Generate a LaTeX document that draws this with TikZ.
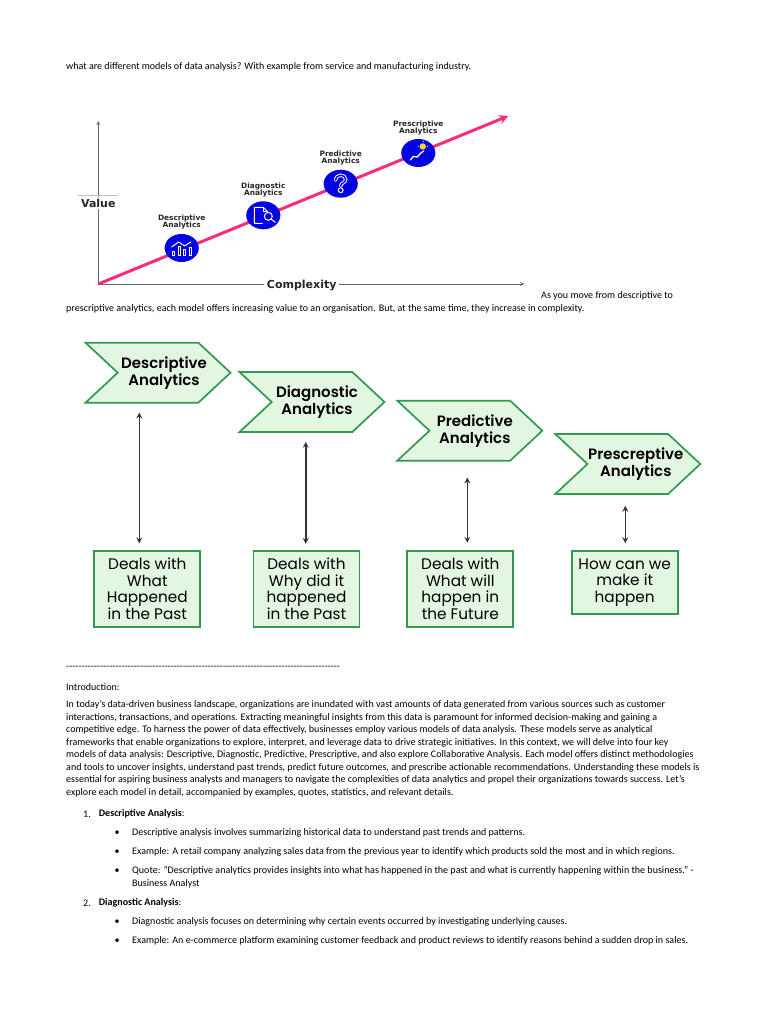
\documentclass[tikz,border=0pt]{standalone}
\usepackage{fontspec}
\setmainfont{Carlito}
\newfontfamily\headfont{Poppins}
\newfontfamily\headsemi{Poppins SemiBold}
\newfontfamily\chartfont{DejaVu Sans}
\usetikzlibrary{shapes.symbols}
\definecolor{boxgreen}{HTML}{2F9A50}
\definecolor{boxfill}{HTML}{E3F6E1}
\definecolor{trendpink}{HTML}{F72C7C}
\definecolor{stageblue}{HTML}{0404E2}
\definecolor{bulbyellow}{HTML}{FFD51E}

\begin{document}
\begin{tikzpicture}[
    x = 1pt,
    y = -1pt,
    bodytext/.style = {
        anchor = west,
        inner sep = 0pt,
        align = left,
        text = black,
        font = \fontsize{10.05}{12.5}\selectfont
    },
    chevron/.style = {
        shape = signal,
        signal from = west,
        signal to = east,
        signal pointer angle = 86,
        draw = boxgreen,
        fill = boxfill,
        line width = 1.7pt,
        inner sep = 0pt,
        minimum height = 60pt,
        minimum width = 145pt
    },
    chevrontext/.style = {
        inner sep = 0pt,
        align = center,
        text = black,
        font = \headsemi\fontsize{15}{17}\selectfont
    },
    dealbox/.style = {
        draw = boxgreen,
        fill = boxfill,
        line width = 1.7pt,
        inner sep = 0pt,
        minimum width = 106pt,
        align = center,
        font = \headfont\fontsize{15.3}{16.7}\selectfont
    },
    linkarrow/.style = {
        <->,
        >= stealth,
        draw = black!80,
        line width = 1.6pt
    },
    axisline/.style = {
        -stealth,
        draw = black!60,
        line width = 0.8pt
    },
    axislabel/.style = {
        fill = white,
        inner xsep = 3pt,
        inner ysep = 1.5pt,
        text = black!85,
        font = \chartfont\bfseries\fontsize{11}{12}\selectfont
    },
    stage/.style = {
        shape = circle,
        fill = stageblue,
        minimum size = 28pt,
        inner sep = 0pt,
        xscale = 1.22
    },
    stagelabel/.style = {
        inner sep = 0pt,
        align = center,
        text = black!85,
        font = \chartfont\bfseries\fontsize{7.4}{7.3}\selectfont
    },
    icon/.style = {
        draw = white,
        line width = 1pt,
        line cap = round,
        line join = round
    }
]

\useasboundingbox (0,0) rectangle (768,1024);

\node[bodytext] (title) at (66,67.3) {what are different models of data analysis? With example from service and manufacturing industry.};

\coordinate (origin) at (98.3,284);
\coordinate (valuetop) at (98.3,121);
\coordinate (complexityend) at (524,284);
\coordinate (trendend) at (508.3,116);
\draw[axisline] (origin) -- (valuetop);
\draw[axisline] (origin) -- (complexityend);
\node[axislabel] (value) at (98.3,203) {Value};
\node[axislabel] (complexity) at (301.7,285.5) {Complexity};
\coordinate (valueleft) at (78,195.5);
\coordinate (valueright) at (118,195.5);
\draw[black!25, line width = 0.5pt] (valueleft) -- (valueright);
\draw[-stealth, trendpink, line width = 3pt] (origin) -- (trendend);

\node[stage] (stageA) at (181.7,248) {};
\node[stage] (stageB) at (263.3,215.3) {};
\node[stage] (stageC) at (340.7,183.7) {};
\node[stage] (stageD) at (418.3,153) {};
\node[stagelabel] (labelA) at (181.7,222) {Descriptive\\Analytics};
\node[stagelabel] (labelB) at (263.3,190) {Diagnostic\\Analytics};
\node[stagelabel] (labelC) at (340.7,158) {Predictive\\Analytics};
\node[stagelabel] (labelD) at (418.3,128) {Prescriptive\\Analytics};

\begin{scope}[shift = {(181.7,248)}]
    \foreach \bx/\by in {-8/3, -2/-2, 3/1, 9/-1} {
        \draw[icon] (\bx-1.2,7) rectangle (\bx+1.2,\by);
    }
    \draw[icon] (-10,-1) -- (-3,-6) -- (3,-2) -- (9,-6);
\end{scope}
\begin{scope}[shift = {(263.3,215.3)}]
    \draw[icon] (-1,8) -- (-9,8) -- (-9,-8) -- (0,-8) -- (4,-4);
    \draw[icon] (0,-8) -- (0,-4) -- (4,-4);
    \draw[icon] (5,1) circle (4);
    \draw[icon] (8,4) -- (12,7);
\end{scope}
\begin{scope}[shift = {(340.7,183.7)}]
    \draw[white, line width = 3.4pt, line cap = round] (-5,-3.5) .. controls (-5,-10) and (5,-10) .. (5,-4) .. controls (5,-1) and (0,-1) .. (0,2.5);
    \draw[stageblue, line width = 1.4pt, line cap = round] (-5,-3.5) .. controls (-5,-10) and (5,-10) .. (5,-4) .. controls (5,-1) and (0,-1) .. (0,2.5);
    \draw[white, line width = 1pt] (0,6.5) circle (2.4);
\end{scope}
\begin{scope}[shift = {(418.3,153)}]
    \fill[bulbyellow] (4.5,-6.5) circle (3.2);
    \draw[bulbyellow, line width = 0.6pt] (-0.5,-6.5) -- (0.5,-6.5) (8.5,-6.5) -- (9.5,-6.5) (4.5,-11.5) -- (4.5,-10.5);
    \draw[icon, line width = 1.3pt] (-8,7) -- (-5,3.5) -- (-1,4) -- (2.5,0) -- (5.5,-2);
\end{scope}

\node[bodytext] (intromove) at (541,296) {As you move from descriptive to};
\node[bodytext] (introrest) at (66,308.7) {prescriptive analytics, each model offers increasing value to an organisation. But, at the same time, they increase in complexity.};

\node[chevron, label = {[chevrontext, xshift = 6pt]center:Descriptive\\Analytics}] (descriptive) at (158,372.7) {};
\node[chevron, label = {[chevrontext, xshift = 5pt]center:Diagnostic\\Analytics}] (diagnostic) at (312,402) {};
\node[chevron, label = {[chevrontext, xshift = 5pt]center:Predictive\\Analytics}] (predictive) at (469.8,430.7) {};
\node[chevron, label = {[chevrontext, xshift = 8pt]center:Prescreptive\\Analytics}] (prescriptive) at (627.8,464) {};

\node[dealbox, minimum height = 76pt] (pastA) at (147.3,588.7) {Deals with\\What\\Happened\\in the Past};
\node[dealbox, minimum height = 76pt] (pastB) at (306.5,588.7) {Deals with\\Why did it\\happened\\in the Past};
\node[dealbox, minimum height = 76pt] (future) at (460.3,588.7) {Deals with\\What will\\happen in\\the Future};
\node[dealbox, minimum height = 63pt] (makeit) at (624.7,582.5) {How can we\\make it\\happen};

\draw[linkarrow, shorten <= 6.5pt, shorten >= 9pt] ([xshift = -8pt]pastA.north) -- ([xshift = -8pt]pastA.north |- descriptive.south);
\draw[linkarrow, shorten <= 6pt, shorten >= 9pt] ([xshift = -0.8pt]pastB.north) -- ([xshift = -0.8pt]pastB.north |- diagnostic.south);
\draw[linkarrow, shorten <= 7pt, shorten >= 16pt] ([xshift = 7pt]future.north) -- ([xshift = 7pt]future.north |- predictive.south);
\draw[linkarrow, shorten <= 7pt, shorten >= 11pt] ([xshift = 0.6pt]makeit.north) -- ([xshift = 0.6pt]makeit.north |- prescriptive.south);

\node[bodytext] (dashes) at (66,667.7) {\foreach \n in {1,...,89} {{-}}};
\node[bodytext] (introhead) at (66,687) {Introduction:};
\node[bodytext, anchor = north west] (intro) at (66,700.5) {In today's data-driven business landscape, organizations are inundated with vast amounts of data generated from various sources such as customer\\
interactions, transactions, and operations. Extracting meaningful insights from this data is paramount for informed decision-making and gaining a\\
competitive edge. To harness the power of data effectively, businesses employ various models of data analysis. These models serve as analytical\\
frameworks that enable organizations to explore, interpret, and leverage data to drive strategic initiatives. In this context, we will delve into four key\\
models of data analysis: Descriptive, Diagnostic, Predictive, Prescriptive, and also explore Collaborative Analysis. Each model offers distinct methodologies\\
and tools to uncover insights, understand past trends, predict future outcomes, and prescribe actionable recommendations. Understanding these models is\\
essential for aspiring business analysts and managers to navigate the complexities of data analytics and propel their organizations towards success. Let's\\
explore each model in detail, accompanied by examples, quotes, statistics, and relevant details.};

\node[bodytext] (numA) at (83,814) {1.};
\node[bodytext] (itemA) at (98.7,814) {\textbf{Descriptive Analysis}:};
\node[bodytext] (numB) at (83,903.3) {2.};
\node[bodytext] (itemB) at (98.7,903.3) {\textbf{Diagnostic Analysis}:};

\foreach \i/\yy/\txt in {
    1/832.7/{Descriptive analysis involves summarizing historical data to understand past trends and patterns.},
    2/851.7/{Example: A retail company analyzing sales data from the previous year to identify which products sold the most and in which regions.},
    3/870.7/{Quote: "Descriptive analytics provides insights into what has happened in the past and what is currently happening within the business." -},
    4/922.3/{Diagnostic analysis focuses on determining why certain events occurred by investigating underlying causes.},
    5/941.3/{Example: An e-commerce platform examining customer feedback and product reviews to identify reasons behind a sudden drop in sales.}
} {
    \node[bodytext] (dot\i) at (114.5,\yy) {•};
    \node[bodytext] (point\i) at (132,\yy) {\txt};
}
\node[bodytext] (pointcont) at (132,884.3) {Business Analyst};

\end{tikzpicture}
\end{document}
